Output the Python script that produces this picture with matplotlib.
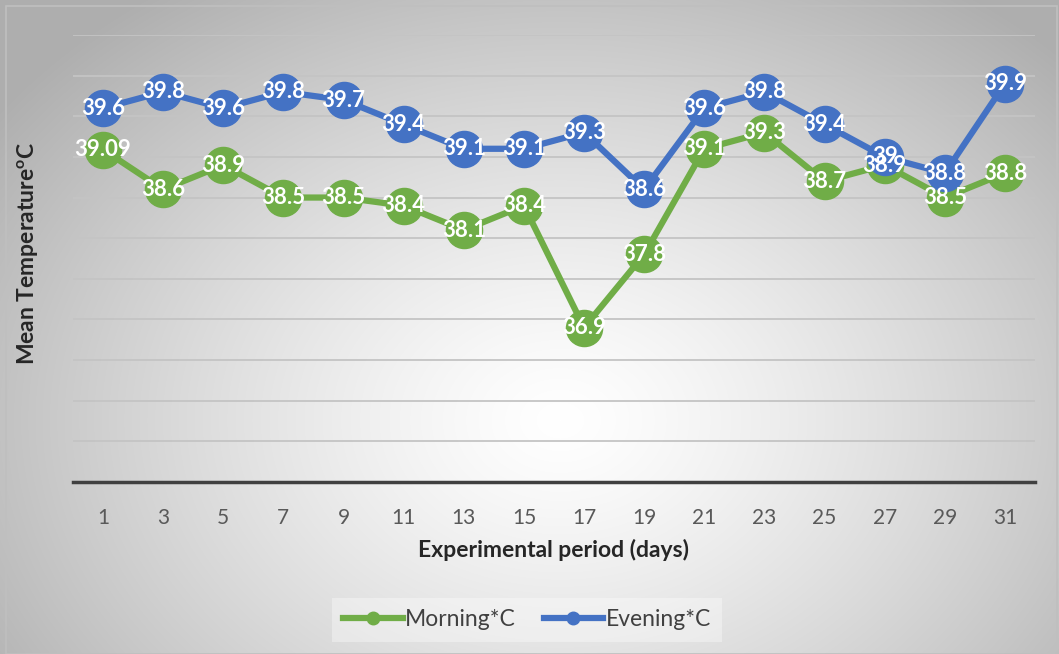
import numpy as np
import matplotlib
matplotlib.use("Agg")
import matplotlib.pyplot as plt
from matplotlib.lines import Line2D

days = ["1", "3", "5", "7", "9", "11", "13", "15", "17", "19", "21", "23", "25", "27", "29", "31"]
morning = [39.09, 38.6, 38.9, 38.5, 38.5, 38.4, 38.1, 38.4, 36.9, 37.8, 39.1, 39.3, 38.7, 38.9, 38.5, 38.8]
evening = [39.6, 39.8, 39.6, 39.8, 39.7, 39.4, 39.1, 39.1, 39.3, 38.6, 39.6, 39.8, 39.4, 39.0, 38.8, 39.9]
morning_labels = ["39.09", "38.6", "38.9", "38.5", "38.5", "38.4", "38.1", "38.4", "36.9", "37.8", "39.1", "39.3", "38.7", "38.9", "38.5", "38.8"]
evening_labels = ["39.6", "39.8", "39.6", "39.8", "39.7", "39.4", "39.1", "39.1", "39.3", "38.6", "39.6", "39.8", "39.4", "39", "38.8", "39.9"]

plt.rcParams['font.family'] = ['Lato', 'DejaVu Sans']
plt.rcParams['mathtext.fontset'] = 'custom'
plt.rcParams['mathtext.rm'] = 'Lato'
plt.rcParams['mathtext.bf'] = 'Lato:bold'

W, H = 1059, 654
fig = plt.figure(figsize=(W / 100, H / 100), dpi=100)
fig.patch.set_facecolor("white")

# background radial gradient
bg = fig.add_axes([0, 0, 1, 1], zorder=-5)
yy, xx = np.mgrid[0:H, 0:W]
cx, cy = 560, 420
r = np.sqrt(((xx - cx) / 580.0) ** 2 + ((yy - cy) / 440.0) ** 2)
val = 1.0 - 0.25 * np.clip(r, 0, 1.2) ** 1.3
img = np.dstack([val, val, val])
bg.imshow(img, extent=[0, W, H, 0], aspect="auto")
bg.add_patch(plt.Rectangle((6, 6), W - 8, H - 6, fill=False, ec="#bfbfbf", lw=1.2))
bg.set_xlim(0, W)
bg.set_ylim(H, 0)
bg.axis("off")

ax = fig.add_axes([73 / W, (H - 482) / H, (1035 - 73) / W, (482 - 35) / H])
ax.set_facecolor("none")
x = np.arange(len(days))

green = "#70AD47"
blue = "#4472C4"
ax.plot(x, morning, color=green, lw=4.5, marker="o", ms=26, zorder=3, solid_capstyle="round")
ax.plot(x, evening, color=blue, lw=4.5, marker="o", ms=26, zorder=4, solid_capstyle="round")
for xi, v, t in zip(x, morning, morning_labels):
    ax.text(xi, v, t, ha="center", va="center", color="white", fontsize=16, fontweight="bold", zorder=6)
for xi, v, t in zip(x, evening, evening_labels):
    ax.text(xi, v, t, ha="center", va="center", color="white", fontsize=16, fontweight="bold", zorder=7)

ax.set_xlim(-0.5, len(days) - 0.5)
ax.set_ylim(35, 40.5)
ax.set_yticks(np.arange(35, 40.51, 0.5))
ax.set_yticklabels([])
ax.tick_params(axis="y", length=0)
ax.grid(axis="y", color="#c4c4c4", lw=1.3, zorder=0)
ax.set_axisbelow(True)
ax.set_xticks(x)
ax.set_xticklabels(days, fontsize=15, color="#595959")
ax.tick_params(axis="x", length=0, pad=19)
for s in ["top", "right", "left"]:
    ax.spines[s].set_visible(False)
ax.spines["bottom"].set_color("#404040")
ax.spines["bottom"].set_linewidth(2.5)

fig.text(554 / W, 1 - 550 / H, "Experimental period (days)", ha="center", va="center",
         fontsize=16.5, fontweight="bold", color="#262626")
fig.text(28 / W, 1 - 253 / H, r"Mean Temperature$^\mathbf{o}$C", ha="center", va="center",
         rotation=90, fontsize=16.5, fontweight="bold", color="#262626")

handles = [Line2D([0], [0], color=green, lw=4.5, marker="o", ms=9),
           Line2D([0], [0], color=blue, lw=4.5, marker="o", ms=9)]
leg = fig.legend(handles, ["Morning*C", "Evening*C"], loc="center", bbox_to_anchor=(527 / W, 1 - 620 / H),
                 ncol=2, frameon=True, fontsize=16.5, handlelength=2.6, columnspacing=1.2,
                 handletextpad=0.1, borderpad=0.5)
leg.get_frame().set_facecolor("white")
leg.get_frame().set_alpha(0.35)
leg.get_frame().set_edgecolor("none")
leg.get_frame().set_boxstyle("square", pad=0)
for t in leg.get_texts():
    t.set_color("#404040")

fig.savefig("out.png", dpi=100)
